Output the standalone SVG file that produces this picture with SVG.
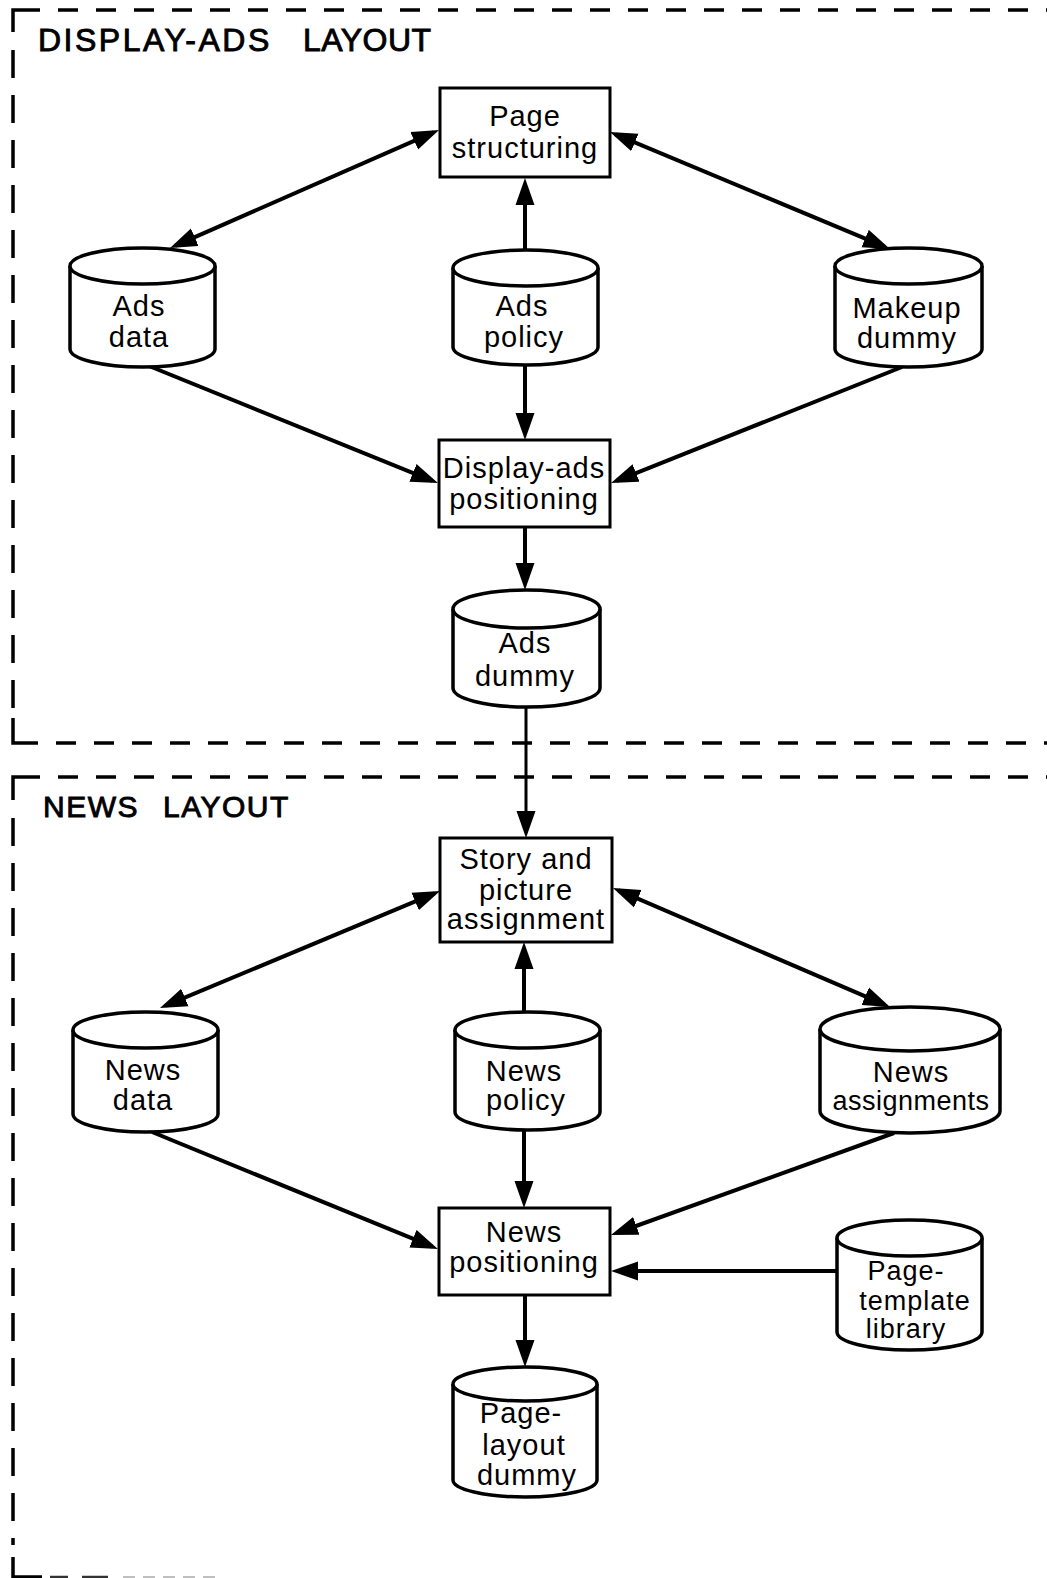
<svg xmlns="http://www.w3.org/2000/svg" width="1047" height="1578" viewBox="0 0 1047 1578">
<style>
.frame{fill:none;stroke:#000;stroke-width:3.5}
.dash{fill:none;stroke:#000;stroke-width:3.5;stroke-dasharray:20 18}
.vdash{fill:none;stroke:#000;stroke-width:3.5;stroke-dasharray:28 17}
.box{fill:#fff;stroke:#000;stroke-width:3}
.cyl{fill:#fff;stroke:#000;stroke-width:3.5}
.conn{fill:none;stroke:#000;stroke-width:4}
.thin{stroke-width:3}
.lbl{font-family:"Liberation Sans",Arial,sans-serif;font-size:29px;letter-spacing:1px;text-anchor:middle;fill:#000}
.sm{font-size:27px}
.title{font-family:"Liberation Sans",Arial,sans-serif;font-size:32px;fill:#000;stroke:#000;stroke-width:0.9}
</style>
<defs>
<marker id="ah" markerUnits="userSpaceOnUse" markerWidth="30" markerHeight="22" refX="21" refY="10" orient="auto-start-reverse">
<path d="M0,0.5 L27,10 L0,19.5 Z" fill="#000"/>
</marker>
</defs>
<rect width="1047" height="1578" fill="#fff"/>

<g id="frame-display-ads">
<path class="frame" d="M13,32 V10 H40"/>
<path class="dash" d="M58,10 H1047"/>
<path class="vdash" d="M13,50 V715"/>
<path class="frame" d="M13,718 V743 H38"/>
<path class="dash" d="M56,743 H1047"/>
<text class="title" y="51" letter-spacing="2.5"><tspan x="38">DISPLAY-ADS</tspan> <tspan x="303" letter-spacing="0.5">LAYOUT</tspan></text>
</g>

<g id="frame-news">
<path class="frame" d="M13,800 V777 H40"/>
<path class="dash" d="M58,777 H1047"/>
<path class="vdash" d="M13,818 V1545"/>
<path class="frame" d="M13,1557 V1577 H42"/>
<path d="M50,1577 H68 M82,1577 H108" stroke="#333" stroke-width="2.5"/>
<path d="M123,1577 H217" stroke="#aaa" stroke-width="1.5" stroke-dasharray="12 8"/>
<text class="title" x="43" y="817" letter-spacing="1.5" style="font-size:30px">NEWS <tspan x="163">LAYOUT</tspan></text>
</g>

<g id="connectors">
<line class="conn" x1="175.5" y1="245.6" x2="433.5" y2="132.4" marker-start="url(#ah)" marker-end="url(#ah)"/>
<line class="conn" x1="615.5" y1="134.3" x2="884.5" y2="246.7" marker-start="url(#ah)" marker-end="url(#ah)"/>
<line class="conn" x1="525" y1="250" x2="525" y2="184" marker-end="url(#ah)"/>
<line class="conn" x1="149" y1="366" x2="432.4" y2="480.8" marker-end="url(#ah)"/>
<line class="conn" x1="902" y1="367" x2="616.6" y2="480.8" marker-end="url(#ah)"/>
<line class="conn" x1="525" y1="365" x2="525" y2="434" marker-end="url(#ah)"/>
<line class="conn" x1="525" y1="527" x2="525" y2="584" marker-end="url(#ah)"/>
<line class="conn thin" x1="526" y1="707" x2="526" y2="832" marker-end="url(#ah)"/>
<line class="conn" x1="165.5" y1="1005.7" x2="434.5" y2="893.3" marker-start="url(#ah)" marker-end="url(#ah)"/>
<line class="conn" x1="618.5" y1="890.4" x2="884.5" y2="1004.6" marker-start="url(#ah)" marker-end="url(#ah)"/>
<line class="conn" x1="524" y1="1012" x2="524" y2="948" marker-end="url(#ah)"/>
<line class="conn" x1="152" y1="1132" x2="432.4" y2="1246.7" marker-end="url(#ah)"/>
<line class="conn" x1="894" y1="1133" x2="616.6" y2="1233" marker-end="url(#ah)"/>
<line class="conn" x1="524" y1="1130" x2="524" y2="1202" marker-end="url(#ah)"/>
<line class="conn" x1="837" y1="1271" x2="617" y2="1271" marker-end="url(#ah)"/>
<line class="conn" x1="525" y1="1295" x2="525" y2="1361" marker-end="url(#ah)"/>
</g>

<g id="page-structuring">
<rect class="box" x="440" y="88" width="170" height="89"/>
<text class="lbl"><tspan x="525" y="126">Page</tspan><tspan x="525" y="158">structuring</tspan></text>
</g>

<g id="ads-data">
<path class="cyl" d="M70,266 V349 A72.5,18 0 0 0 215,349 V266"/>
<ellipse class="cyl" cx="142.5" cy="266" rx="72.5" ry="18"/>
<text class="lbl"><tspan x="139" y="316">Ads</tspan><tspan x="139" y="347">data</tspan></text>
</g>

<g id="ads-policy">
<path class="cyl" d="M453,268 V347 A72.5,18 0 0 0 598,347 V268"/>
<ellipse class="cyl" cx="525.5" cy="268" rx="72.5" ry="18"/>
<text class="lbl"><tspan x="522" y="316">Ads</tspan><tspan x="524" y="347">policy</tspan></text>
</g>

<g id="makeup-dummy">
<path class="cyl" d="M835,266 V349 A73.5,18 0 0 0 982,349 V266"/>
<ellipse class="cyl" cx="908.5" cy="266" rx="73.5" ry="18"/>
<text class="lbl"><tspan x="907" y="318">Makeup</tspan><tspan x="907" y="348">dummy</tspan></text>
</g>

<g id="display-ads-positioning">
<rect class="box" x="439" y="440" width="171" height="87"/>
<text class="lbl"><tspan x="524" y="478">Display-ads</tspan><tspan x="524" y="509">positioning</tspan></text>
</g>

<g id="ads-dummy">
<path class="cyl" d="M453,609 V688 A73.5,19 0 0 0 600,688 V609"/>
<ellipse class="cyl" cx="526.5" cy="609" rx="73.5" ry="19"/>
<text class="lbl"><tspan x="525" y="653">Ads</tspan><tspan x="525" y="686">dummy</tspan></text>
</g>

<g id="story-picture-assignment">
<rect class="box" x="440" y="838" width="172" height="104"/>
<text class="lbl"><tspan x="526" y="869">Story and</tspan><tspan x="526" y="900">picture</tspan><tspan x="526" y="929">assignment</tspan></text>
</g>

<g id="news-data">
<path class="cyl" d="M73,1030 V1114 A72.5,18 0 0 0 218,1114 V1030"/>
<ellipse class="cyl" cx="145.5" cy="1030" rx="72.5" ry="18"/>
<text class="lbl"><tspan x="143" y="1080">News</tspan><tspan x="143" y="1110">data</tspan></text>
</g>

<g id="news-policy">
<path class="cyl" d="M455,1030 V1112 A72.5,18 0 0 0 600,1112 V1030"/>
<ellipse class="cyl" cx="527.5" cy="1030" rx="72.5" ry="18"/>
<text class="lbl"><tspan x="524" y="1081">News</tspan><tspan x="526" y="1110">policy</tspan></text>
</g>

<g id="news-assignments">
<path class="cyl" d="M820,1029 V1111 A90,22 0 0 0 1000,1111 V1029"/>
<ellipse class="cyl" cx="910" cy="1029" rx="90" ry="22"/>
<text class="lbl"><tspan x="911" y="1082">News</tspan><tspan class="sm" x="911" y="1110" letter-spacing="0.5">assignments</tspan></text>
</g>

<g id="news-positioning">
<rect class="box" x="439" y="1208" width="171" height="87"/>
<text class="lbl"><tspan x="524" y="1242">News</tspan><tspan x="524" y="1272">positioning</tspan></text>
</g>

<g id="page-template-library">
<path class="cyl" d="M837,1238 V1332 A72.5,18 0 0 0 982,1332 V1238"/>
<ellipse class="cyl" cx="909.5" cy="1238" rx="72.5" ry="18"/>
<text class="lbl sm"><tspan x="906" y="1280">Page-</tspan><tspan x="915" y="1310">template</tspan><tspan x="906" y="1338">library</tspan></text>
</g>

<g id="page-layout-dummy">
<path class="cyl" d="M453,1384 V1480 A72,17 0 0 0 597,1480 V1384"/>
<ellipse class="cyl" cx="525" cy="1384" rx="72" ry="17"/>
<text class="lbl"><tspan x="521" y="1423">Page-</tspan><tspan x="524" y="1455">layout</tspan><tspan x="527" y="1485">dummy</tspan></text>
</g>
</svg>
